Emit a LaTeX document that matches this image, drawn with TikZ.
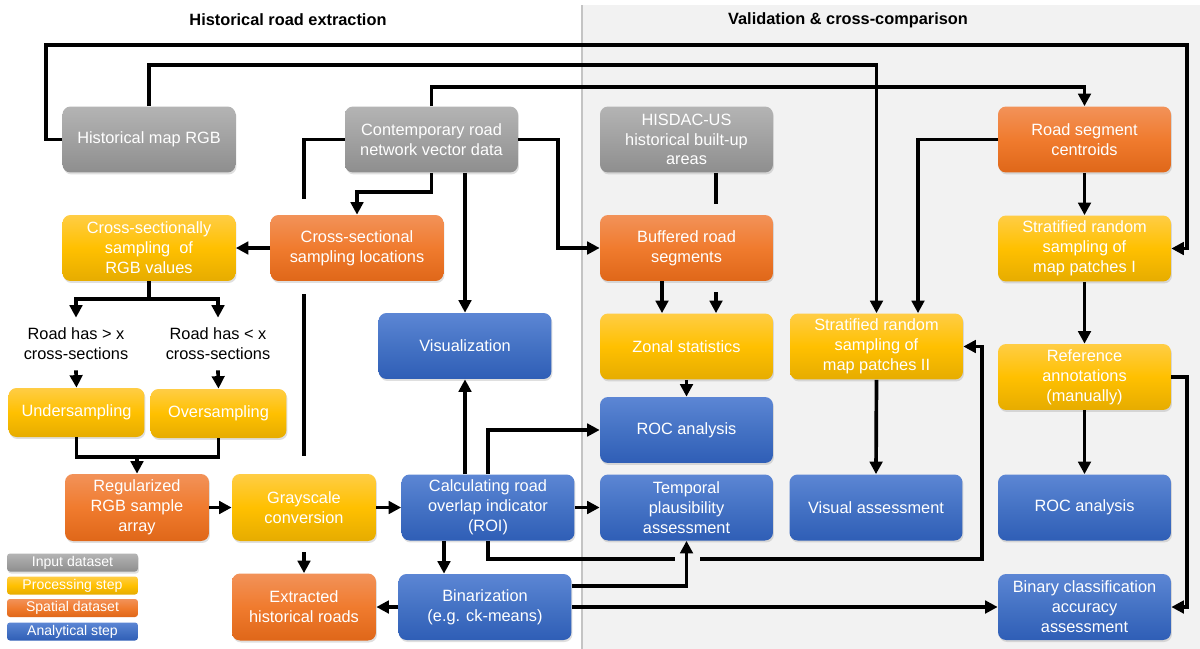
\documentclass[tikz,border=0pt]{standalone}
\usepackage{fontspec}
\setmainfont{Liberation Sans}
\usetikzlibrary{arrows.meta,shadows}
\definecolor{gtop}{HTML}{B4B4B4}
\definecolor{gbot}{HTML}{8E8E8E}
\definecolor{ytop}{HTML}{FFCD45}
\definecolor{ymid}{HTML}{FFC000}
\definecolor{ybot}{HTML}{E6AC00}
\definecolor{otop}{HTML}{F29259}
\definecolor{omid}{HTML}{F07B2E}
\definecolor{obot}{HTML}{DF6719}
\definecolor{btop}{HTML}{5C86D4}
\definecolor{bmid}{HTML}{4472C4}
\definecolor{bbot}{HTML}{2F5EB6}
\definecolor{panel}{HTML}{F2F2F2}
\definecolor{panelline}{HTML}{C4C4C4}
\newcommand{\boxfont}{\fontsize{9.3}{11.3}\selectfont}
\newcommand{\legfont}{\fontsize{8}{8.5}\selectfont}
\begin{document}
\begin{tikzpicture}[x=0.02cm,y=-0.02cm,
  conn/.style={line width=2.1pt, draw=black},
  arr/.style={conn, -{Triangle[length=0.25cm,width=0.25cm]}},
  box/.style={rounded corners=0.16cm, text=white, align=center, font=\boxfont,
    minimum width=3.46cm, minimum height=1.32cm, inner sep=1pt,
    drop shadow={shadow xshift=0.02cm, shadow yshift=-0.04cm, opacity=0.25}},
  grayb/.style={box, top color=gtop, bottom color=gbot},
  yellb/.style={box, top color=ytop, bottom color=ybot, middle color=ymid},
  orab/.style={box, top color=otop, bottom color=obot, middle color=omid},
  blub/.style={box, top color=btop, bottom color=bbot, middle color=bmid},
  narrow/.style={minimum width=2.88cm, minimum height=1.34cm},
  small/.style={minimum width=2.72cm, minimum height=0.98cm},
  lab/.style={align=center, font=\boxfont, minimum height=1.04cm, inner sep=0pt},
  head/.style={font=\fontsize{9.3}{11}\selectfont\bfseries},
  leg/.style={rounded corners=0.06cm, text=white, font=\legfont, minimum width=2.62cm,
    minimum height=0.36cm, inner sep=0pt}
]
\useasboundingbox (0,0) rectangle (1200,649);
\fill[white] (0,0) rectangle (1200,649);
\fill[panel] (582,5) rectangle (1200,649);
\draw[panelline, line width=0.8pt] (582,5) -- (582,649);

\node[head] (h1) at (288,20) {Historical road extraction};
\node[head] (h2) at (848,20) {Validation \& cross-comparison};

% row 1
\node[grayb] (hist) at (149,139.5) {Historical map RGB};
\node[grayb] (contemp) at (431.5,139.5) {Contemporary road\\network vector data};
\node[grayb] (hisdac) at (686.5,139.5) {HISDAC-US\\historical built-up\\areas};
\node[orab] (rsc) at (1084.5,139.5) {Road segment\\centroids};
% row 2
\node[yellb] (xsamp) at (149,248) {Cross-sectionally\\sampling\ \ of\\RGB values};
\node[orab] (xloc) at (357,248) {Cross-sectional\\sampling locations};
\node[orab] (buf) at (686.5,248) {Buffered road\\segments};
\node[yellb] (strat1) at (1084.5,248.5) {Stratified random\\sampling of\\map patches I};
% row 3
\node[lab] (txtgt) at (76,344) {Road has \textgreater{} x\\cross-sections};
\node[lab] (txtlt) at (218,344) {Road has \textless{} x\\cross-sections};
\node[blub] (vis) at (465,346) {Visualization};
\node[yellb] (zonal) at (686.5,346.5) {Zonal statistics};
\node[yellb] (strat2) at (876.5,346.5) {Stratified random\\sampling of\\map patches II};
\node[yellb] (ref) at (1084.5,377) {Reference\\annotations\\(manually)};
\node[yellb, small] (under) at (76.5,412.5) {Undersampling};
\node[yellb, small] (over) at (218.5,413.5) {Oversampling};
\node[blub] (roc1) at (686.5,430) {ROC analysis};
% row 5
\node[orab, narrow] (reg) at (137,507.5) {Regularized\\RGB sample\\array};
\node[yellb, narrow] (gray) at (304,507.5) {Grayscale\\conversion};
\node[blub] (roi) at (488,507.5) {Calculating road\\overlap indicator\\(ROI)};
\node[blub] (temp) at (686.5,507.5) {Temporal\\plausibility\\assessment};
\node[blub] (visass) at (876,507.5) {Visual assessment};
\node[blub] (roc2) at (1084.5,507.5) {ROC analysis};
% row 6
\node[orab, narrow] (extr) at (304,607) {Extracted\\historical roads};
\node[blub] (bin) at (485,607) {Binarization\\(e.g. ck-means)};
\node[blub] (binclass) at (1084.5,607) {Binary classification\\accuracy\\assessment};

% legend
\node[leg, top color=gtop, bottom color=gbot, drop shadow={shadow xshift=0.02cm, shadow yshift=-0.04cm, opacity=0.25}] (l1) at (72.5,562.5) {Input dataset};
\node[leg, top color=ytop, bottom color=ybot, middle color=ymid] (l2) at (72.5,585.5) {Processing step};
\node[leg, top color=otop, bottom color=obot, middle color=omid] (l3) at (72.5,608) {Spatial dataset};
\node[leg, top color=btop, bottom color=bbot, middle color=bmid] (l4) at (72.5,631.5) {Analytical step};

% helper coordinates
\coordinate (L1a) at (46,45);
\coordinate (L1b) at (1187,45);
\coordinate (y65) at (0,65);
\coordinate (y87) at (0,87);
\coordinate (y192) at (0,192);
\coordinate (x558) at (558,0);
\coordinate (c4a) at (304,199);
\coordinate (c4b) at (304,294);
\coordinate (c4c) at (304,456);
\coordinate (sp) at (149,299);
\coordinate (j) at (137,457);
\coordinate (y457) at (0,457);
\coordinate (x444) at (444,0);
\coordinate (y559) at (0,559);
\coordinate (g1) at (675,559);
\coordinate (g2) at (700,559);
\coordinate (x982) at (982,0);
\coordinate (y586) at (0,586);
\coordinate (x662) at (662,0);
\coordinate (x716) at (716,0);
\coordinate (h1b) at (716,204);
\coordinate (h2a) at (716,292);
\coordinate (x918) at (918,0);
\coordinate (x1187) at (1187,0);

% connectors
\draw[arr] (hist.west) -| (L1a) -- (L1b) |- (strat1.east);
\draw[arr] (hist.north) -- (hist.north |- y65) -- (strat2.north |- y65) -- (strat2.north);
\draw[arr] (contemp.north) -- (contemp.north |- y87) -| (rsc.north);
\draw[conn] (contemp.west) -| (c4a);
\draw[conn] (c4b) -- (c4c);
\draw[arr] (contemp.south) -- (contemp.south |- y192) -| (xloc.north);
\draw[arr] (contemp.south -| vis.north) -- (vis.north);
\draw[arr] (contemp.east) -- (contemp.east -| x558) |- (buf.west);
\draw[arr] (xloc.west) -- (xsamp.east);
\draw[arr] (xsamp.south) -- (sp) -| (txtgt.north);
\draw[arr] (sp) -| (txtlt.north);
\draw[arr] (txtgt.south) -- (under.north);
\draw[arr] (txtlt.south) -- (over.north);
\draw[conn] (under.south) -- (under.south |- y457) -- (over.south |- y457) -- (over.south);
\draw[arr] (j) -- (reg.north);
\draw[arr] (reg.east) -- (gray.west);
\draw[arr] (gray.east) -- (roi.west);
\draw[arr, shorten <=0.22cm] (gray.south) -- (extr.north);
\draw[arr] (bin.west) -- (extr.east);
\draw[arr] (roi.south -| x444) -- (bin.north -| x444);
\draw[arr] (roi.north -| vis.south) -- (vis.south);
\draw[arr] (roi.north) |- (roc1.west);
\draw[arr] (roi.east) -- (temp.west);
\draw[conn] (roi.south) |- (g1);
\draw[arr] (g2) -- (g2 -| x982) |- (strat2.east);
\draw[arr] (bin.east |- y586) -| (temp.south);
\draw[arr] (bin.east) -- (binclass.west);
\draw[arr] (buf.south -| x662) -- (zonal.north -| x662);
\draw[conn] (hisdac.south -| x716) -- (h1b);
\draw[arr] (h2a) -- (zonal.north -| x716);
\draw[arr] (zonal.south) -- (roc1.north);
\draw[arr] (rsc.south) -- (strat1.north);
\draw[arr] (rsc.west) -| (strat2.north -| x918);
\draw[arr] (strat1.south) -- (ref.north);
\draw[arr] (ref.south) -- (roc2.north);
\draw[arr] (ref.east) -- (ref.east -| x1187) |- (binclass.east);
\draw[arr] (strat2.south) -- (visass.north);
\end{tikzpicture}
\end{document}
